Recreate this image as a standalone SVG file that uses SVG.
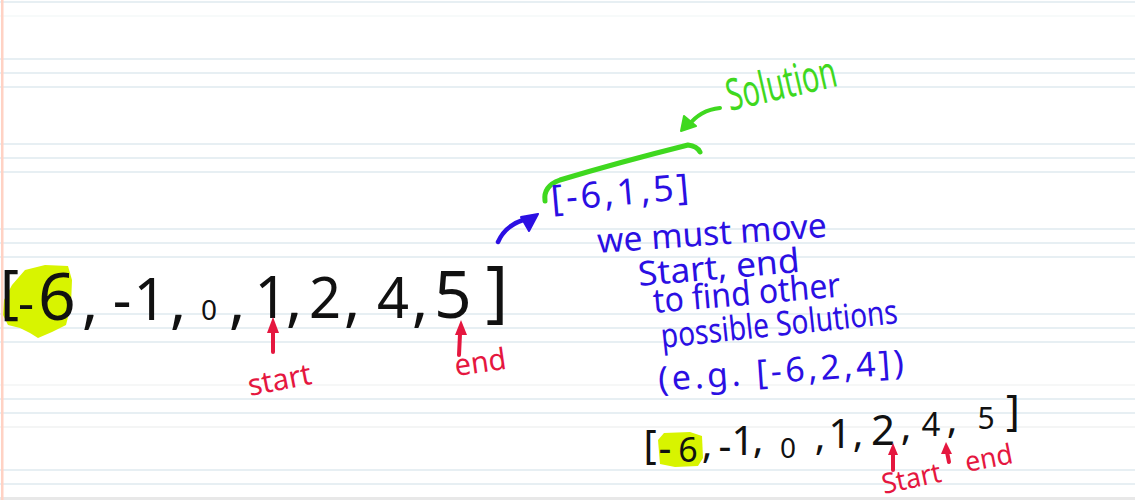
<svg xmlns="http://www.w3.org/2000/svg" width="1135" height="500" viewBox="0 0 1135 500">
<style>
.rule{stroke:#dfeaef;stroke-width:1.5}
.blk{font-family:"Noto Sans","DejaVu Sans",sans-serif;fill:#111;text-anchor:middle}
.blue{font-family:"Noto Sans","DejaVu Sans",sans-serif;fill:#2b0fe3}
.red{font-family:"Noto Sans","DejaVu Sans",sans-serif;fill:#e5173f}
.green{font-family:"Noto Sans","DejaVu Sans",sans-serif;fill:#3fd81f}
.hl{fill:#d8f400}
.rarrow{stroke:#e5173f;stroke-width:4;stroke-linecap:round;fill:none}
.rhead{fill:#e5173f}
</style>
<rect width="1135" height="500" fill="#ffffff"/>
<g id="paper">
<line class="rule" x1="0" y1="2" x2="1135" y2="2"/>
<line class="rule" x1="0" y1="16" x2="1135" y2="16" style="stroke:#f5f8f9"/>
<line class="rule" x1="0" y1="59" x2="1135" y2="59"/>
<line class="rule" x1="0" y1="73" x2="1135" y2="73"/>
<line class="rule" x1="0" y1="87" x2="1135" y2="87"/>
<line class="rule" x1="0" y1="144" x2="1135" y2="144"/>
<line class="rule" x1="0" y1="158" x2="1135" y2="158"/>
<line class="rule" x1="0" y1="172" x2="1135" y2="172"/>
<line class="rule" x1="0" y1="229" x2="1135" y2="229"/>
<line class="rule" x1="0" y1="243" x2="1135" y2="243"/>
<line class="rule" x1="0" y1="257" x2="1135" y2="257"/>
<line class="rule" x1="0" y1="314" x2="1135" y2="314"/>
<line class="rule" x1="0" y1="328" x2="1135" y2="328"/>
<line class="rule" x1="0" y1="342" x2="1135" y2="342"/>
<line class="rule" x1="0" y1="385" x2="1135" y2="385" style="stroke:#f3f5f5"/>
<line class="rule" x1="0" y1="399" x2="1135" y2="399"/>
<line class="rule" x1="0" y1="413" x2="1135" y2="413"/>
<line class="rule" x1="0" y1="427" x2="1135" y2="427" style="stroke:#f0f2f2"/>
<line class="rule" x1="0" y1="470" x2="1135" y2="470"/>
<line class="rule" x1="0" y1="484" x2="1135" y2="484"/>
<rect x="0" y="497" width="1135" height="3" fill="#e8e8e8"/>
<rect x="1" y="0" width="2.5" height="500" fill="#ffd2c4"/>
</g>

<g id="array-main">
<path class="hl" d="M4,300 L12,285 L25,270 L45,265 L68,266 L72,280 L71,305 L66,325 L52,332 L38,338 L30,333 L20,328 L8,325 L3,315 Z"/>
<text class="blk" x="0" y="312" font-size="58" style="text-anchor:start">[</text>
<text class="blk" x="26" y="320" font-size="50">-</text>
<text class="blk" x="57" y="320" font-size="66">6</text>
<text class="blk" x="90" y="322" font-size="62">,</text>
<text class="blk" x="122" y="320" font-size="58">-</text>
<text class="blk" x="150" y="320" font-size="58">1</text>
<text class="blk" x="178" y="322" font-size="62">,</text>
<text class="blk" x="209" y="320" font-size="28">0</text>
<text class="blk" x="237" y="322" font-size="62">,</text>
<text class="blk" x="271" y="318" font-size="58">1</text>
<text class="blk" x="294" y="320" font-size="62">,</text>
<text class="blk" x="325" y="318" font-size="56">2</text>
<text class="blk" x="352" y="320" font-size="62">,</text>
<text class="blk" x="393" y="318" font-size="56">4</text>
<text class="blk" x="420" y="320" font-size="62">,</text>
<text class="blk" x="453" y="318" font-size="66">5</text>
<text class="blk" x="497" y="314" font-size="68">]</text>
</g>

<g id="pointers-main">
<path class="rarrow" d="M273,333 L273,352"/>
<path class="rhead" d="M273,317 L279,333 L267,333 Z"/>
<path class="rarrow" d="M460,334 L459,355"/>
<path class="rhead" d="M461,320 L467,335 L455,335 Z"/>
<text class="red" x="250" y="396" font-size="30" textLength="64" lengthAdjust="spacingAndGlyphs" transform="rotate(-11 250 396)">start</text>
<text class="red" x="456" y="376" font-size="30" textLength="52" lengthAdjust="spacingAndGlyphs" transform="rotate(-8 456 376)">end</text>
</g>

<g id="connectors">
<path d="M498,242 Q505,226 523,220" stroke="#2b0fe3" stroke-width="4.5" fill="none" stroke-linecap="round"/>
<path d="M538,214 L521,217 L529,231 Z" fill="#2b0fe3" stroke="#2b0fe3" stroke-width="2" stroke-linejoin="round"/>
<path d="M720,108 Q700,110 688,126" stroke="#3fd81f" stroke-width="4" fill="none" stroke-linecap="round"/>
<path d="M681,131 L684,116 L696,126 Z" fill="#3fd81f" stroke="#3fd81f" stroke-width="2" stroke-linejoin="round"/>
<path d="M545,201 Q543,186 560,180 Q620,162 688,145 Q697,146 700,152" stroke="#3fd81f" stroke-width="5" fill="none" stroke-linecap="round" stroke-linejoin="round"/>
</g>

<g id="solution-label">
<text class="green" x="730" y="111" font-size="44" textLength="112" lengthAdjust="spacingAndGlyphs" transform="rotate(-13 730 111)">Solution</text>
</g>

<g id="solution">
<text class="blue" x="552" y="211" font-size="36" textLength="138" lengthAdjust="spacing" transform="rotate(-5 552 211)">[-6,1,5]</text>
</g>

<g id="note">
<text class="blue" x="598" y="253" font-size="34" textLength="230" lengthAdjust="spacingAndGlyphs" transform="rotate(-4 598 253)">we must move</text>
<text class="blue" x="639" y="286" font-size="34" textLength="162" lengthAdjust="spacingAndGlyphs" transform="rotate(-5 639 286)">Start, end</text>
<text class="blue" x="654" y="313" font-size="34" textLength="188" lengthAdjust="spacingAndGlyphs" transform="rotate(-5 654 313)">to find other</text>
<text class="blue" x="662" y="348" font-size="34" textLength="238" lengthAdjust="spacingAndGlyphs" transform="rotate(-6 662 348)">possible Solutions</text>
<text class="blue" x="659" y="391" font-size="34" textLength="246" lengthAdjust="spacing" transform="rotate(-4 659 391)">(e.g.  [-6,2,4])</text>
</g>

<g id="array-second">
<path class="hl" d="M658,440 L664,433 L690,432 L702,436 L703,458 L698,466 L675,467 L660,464 Z"/>
<text class="blk" x="650" y="459" font-size="40">[</text>
<text class="blk" x="665" y="462" font-size="40">-</text>
<text class="blk" x="688" y="462" font-size="34">6</text>
<text class="blk" x="707" y="458" font-size="40">,</text>
<text class="blk" x="725" y="460" font-size="40">-</text>
<text class="blk" x="743" y="455" font-size="40">1</text>
<text class="blk" x="758" y="453" font-size="40">,</text>
<text class="blk" x="788" y="458" font-size="28">0</text>
<text class="blk" x="820" y="450" font-size="40">,</text>
<text class="blk" x="840" y="448" font-size="40">1</text>
<text class="blk" x="858" y="447" font-size="40">,</text>
<text class="blk" x="883" y="445" font-size="42">2</text>
<text class="blk" x="906" y="440" font-size="40">,</text>
<text class="blk" x="931" y="436" font-size="33">4</text>
<text class="blk" x="952" y="433" font-size="40">,</text>
<text class="blk" x="986" y="429" font-size="30">5</text>
<text class="blk" x="1013" y="425" font-size="42">]</text>
</g>

<g id="pointers-second">
<path class="rarrow" d="M893,452 L893,470"/>
<path class="rhead" d="M893,443 L898,455 L888,455 Z"/>
<path class="rarrow" d="M947,452 L949,462"/>
<path class="rhead" d="M946,442 L952,454 L941,454 Z"/>
<text class="red" x="884" y="494" font-size="28" textLength="60" lengthAdjust="spacingAndGlyphs" transform="rotate(-12 884 494)">Start</text>
<text class="red" x="967" y="472" font-size="28" textLength="48" lengthAdjust="spacingAndGlyphs" transform="rotate(-11 967 472)">end</text>
</g>
</svg>
